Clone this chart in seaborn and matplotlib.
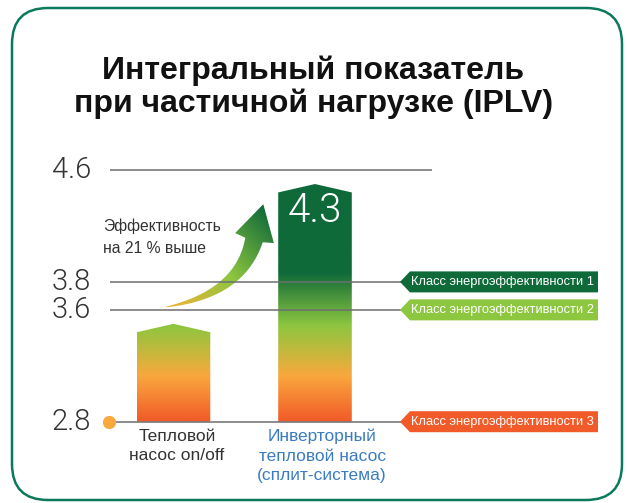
import numpy as np
import pandas as pd
import matplotlib
matplotlib.use("Agg")
import matplotlib.pyplot as plt
import seaborn as sns
from matplotlib.colors import LinearSegmentedColormap
from matplotlib.patches import Polygon, FancyBboxPatch
from matplotlib.transforms import IdentityTransform

# ---------------- data ----------------
categories = ["Тепловой\nнасос on/off", "Инверторный\nтепловой насос\n(сплит-система)"]
bar_heights = [3.44, 4.44]          # shoulder height of each bar
roof_heights = [3.50, 4.50]         # peak of the bar roof
value_labels = ["", "4.3"]
category_colors = ["#333333", "#3a7cc1"]
tick_values = [4.6, 3.8, 3.6, 2.8]
class_values = [3.8, 3.6, 2.8]
class_labels = ["Класс энергоэффективности 1",
                "Класс энергоэффективности 2",
                "Класс энергоэффективности 3"]
class_colors = ["#0f6a3a", "#8dc63f", "#f15a29"]
title_lines = ["Интегральный показатель", "при частичной нагрузке (IPLV)"]
note_text = "Эффективность\nна 21 % выше"

# ---------------- layout helpers (pixel -> data) ----------------
W, H = 627, 503
def X(px):
    return (px - 173.5) / 141.5
def Y(py):
    return 2.8 + (421.7 - py) / 139.8

sns.set_theme(style="white")
plt.rcParams["font.family"] = ["Liberation Sans", "DejaVu Sans"]

fig = plt.figure(figsize=(W / 100, H / 100), dpi=100)
ax = fig.add_axes([0, 0, 1, 1])
df = pd.DataFrame({"cat": categories, "val": bar_heights})
sns.barplot(data=df, x="cat", y="val", ax=ax, width=0.52)

base = min(tick_values)
top = max(tick_values)
grad_cmap = LinearSegmentedColormap.from_list(
    "bar", [(0.0, "#f15a29"), (0.183, "#f9a83d"), (0.278, "#c4b83c"),
            (0.383, "#8dc63f"), (0.594, "#0f6a3a"), (1.0, "#0f6a3a")])
grad = np.linspace(0, 1, 400).reshape(-1, 1)

for patch, h, r, lab in zip(list(ax.patches), bar_heights, roof_heights, value_labels):
    x0 = patch.get_x()
    w = patch.get_width()
    patch.set_visible(False)
    poly = Polygon([(x0, base), (x0 + w, base), (x0 + w, h), (x0 + w / 2, r), (x0, h)],
                   closed=True, facecolor="none", edgecolor="none", transform=ax.transData)
    ax.add_patch(poly)
    im = ax.imshow(grad, extent=[x0, x0 + w, base, top], origin="lower",
                   aspect="auto", cmap=grad_cmap, zorder=1, interpolation="bilinear")
    im.set_clip_path(poly)
    if lab:
        ax.text(x0 + w / 2, Y(211), lab, ha="center", va="center", color="white",
                fontsize=29, fontfamily="Roboto", fontweight=300, zorder=6)

# grid lines + tick labels
for v in tick_values:
    xr = X(432) if v == top else X(401)
    ax.plot([X(110), xr], [v, v], color="#6d6e71", lw=1.1, zorder=3, solid_capstyle="butt")
    ax.text(X(91), v, f"{v}", ha="right", va="center", fontsize=21,
            fontfamily="Roboto", fontweight=300, color="#333333")
ax.plot([X(109)], [base], "o", color="#f9a83d", ms=8.5, zorder=4)

# class tags
dy = 10.5 / 139.8
for v, lab, col in zip(class_values, class_labels, class_colors):
    tag = Polygon([(X(400), v), (X(410), v + dy), (X(598), v + dy), (X(598), v - dy),
                   (X(410), v - dy)], closed=True, facecolor=col, edgecolor="none", zorder=4)
    ax.add_patch(tag)
    ax.text(X(411), v, lab, ha="left", va="center", color="white", fontsize=9.3, zorder=5)

# category labels
for i, (cat, col) in enumerate(zip(categories, category_colors)):
    ax.text(i + (0.025 if i == 0 else 0.05), Y(429), cat, ha="center", va="top",
            fontsize=12.5, color=col, linespacing=1.36)

# note
ax.text(X(103), Y(219), note_text, ha="left", va="top", fontsize=11.3,
        color="#333333", linespacing=1.52)

# curved gradient arrow (pixel space geometry)
P0 = np.array([166.0, 307.0]); P1 = np.array([240.0, 294.0]); P2 = np.array([254.0, 240.0])
t = np.linspace(0, 1, 60)[:, None]
C = (1 - t) ** 2 * P0 + 2 * (1 - t) * t * P1 + t ** 2 * P2
D = 2 * (1 - t) * (P1 - P0) + 2 * t * (P2 - P1)
D = D / np.linalg.norm(D, axis=1, keepdims=True)
N = np.stack([-D[:, 1], D[:, 0]], axis=1)
wid = (0.5 + 17.5 * t[:, 0] ** 0.9)[:, None]
left = C + N * wid / 2
right = C - N * wid / 2
dend = D[-1]; nend = np.array([-dend[1], dend[0]])
hb1 = P2 + nend * 20 + dend * 2
hb2 = P2 - nend * 20 + dend * 2
tip = P2 + dend * 37
pts = np.vstack([left, [hb1], [tip], [hb2], right[::-1]])
arrow = Polygon([(X(px), Y(py)) for px, py in pts], closed=True,
                facecolor="none", edgecolor="none")
ax.add_patch(arrow)
gx, gy = np.meshgrid(np.linspace(155, 285, 200), np.linspace(195, 320, 200))
s = np.clip(((gx - 167) + (307 - gy)) / 198.0, 0, 1)
acmap = LinearSegmentedColormap.from_list(
    "arr", [(0.0, "#f2b136"), (0.48, "#8dc63f"), (1.0, "#0f6a3a")])
aim = ax.imshow(s, extent=[X(155), X(285), Y(320), Y(195)], origin="upper",
                aspect="auto", cmap=acmap, vmin=0, vmax=1, zorder=2, interpolation="bilinear")
aim.set_clip_path(arrow)

ax.set_xlim(X(0), X(W))
ax.set_ylim(Y(H), Y(0))
ax.axis("off")

# title
for k, line in enumerate(title_lines):
    fig.text(0.5, 1 - (71 + 33 * k) / H, line, ha="center", va="center", fontsize=23,
             fontweight="bold", family=["Liberation Sans Narrow", "Liberation Sans"], color="#111111")

# border
border = FancyBboxPatch((12, H - 500), 610, 492, boxstyle="round,pad=0,rounding_size=36",
                        transform=IdentityTransform(), facecolor="none",
                        edgecolor="#0b7a5c", lw=1.8)
fig.patches.append(border)

fig.savefig("out.png", dpi=100)
